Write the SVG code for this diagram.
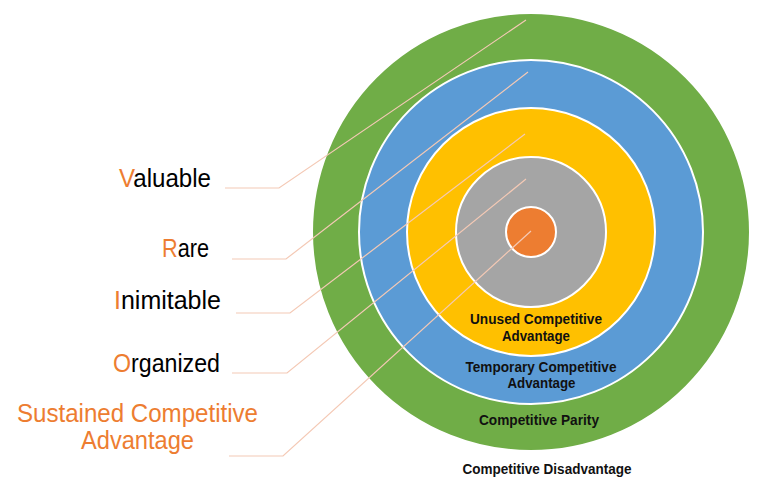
<svg xmlns="http://www.w3.org/2000/svg" width="766" height="490" viewBox="0 0 766 490">
<style>
.ring{stroke:#fff;stroke-width:2}
.lead{fill:none;stroke:#F4C9B5;stroke-width:1.2}
.lbl{font-family:"Liberation Sans",Arial,sans-serif;font-size:25px;fill:#000}
.o{fill:#ED7D31}
.in{font-family:"Liberation Sans",Arial,sans-serif;font-size:14.5px;font-weight:bold;fill:#111;text-anchor:middle}
</style>
<rect width="766" height="490" fill="#fff"/>
<g id="rings">
<circle id="ring-parity" class="ring" cx="531" cy="232" r="219" fill="#70AD47"/>
<circle id="ring-temporary" class="ring" cx="531" cy="232" r="172" fill="#5B9BD5"/>
<circle id="ring-unused" class="ring" cx="531" cy="232" r="124" fill="#FFC000"/>
<circle id="ring-gray" class="ring" cx="531" cy="232" r="75" fill="#A5A5A5"/>
<circle id="ring-core" class="ring" cx="531" cy="232" r="25" fill="#ED7D31"/>
</g>
<g id="connectors">
<polyline class="lead" points="225,188 279,188 526,20"/>
<polyline class="lead" points="232,259 286,259 528,72"/>
<polyline class="lead" points="236,313 290,313 525,134"/>
<polyline class="lead" points="232,373 287,373 526,179"/>
<polyline class="lead" points="229,456 283,456 531,231"/>
</g>
<g id="valuable"><text class="lbl" x="119" y="187" textLength="92" lengthAdjust="spacingAndGlyphs"><tspan class="o">V</tspan>aluable</text></g>
<g id="rare"><text class="lbl" x="162" y="257" textLength="47" lengthAdjust="spacingAndGlyphs"><tspan class="o">R</tspan>are</text></g>
<g id="inimitable"><text class="lbl" x="114" y="309" textLength="107" lengthAdjust="spacingAndGlyphs"><tspan class="o">I</tspan>nimitable</text></g>
<g id="organized"><text class="lbl" x="113" y="372" textLength="107" lengthAdjust="spacingAndGlyphs"><tspan class="o">O</tspan>rganized</text></g>
<g id="sustained"><text class="lbl o" x="17" y="422" textLength="241" lengthAdjust="spacingAndGlyphs">Sustained Competitive</text><text class="lbl o" x="81" y="449" textLength="113" lengthAdjust="spacingAndGlyphs">Advantage</text></g>
<g id="unused"><text class="in" x="536" y="324" textLength="132" lengthAdjust="spacingAndGlyphs">Unused Competitive</text><text class="in" x="536" y="341" textLength="68" lengthAdjust="spacingAndGlyphs">Advantage</text></g>
<g id="temporary"><text class="in" x="541" y="372" textLength="151" lengthAdjust="spacingAndGlyphs">Temporary Competitive</text><text class="in" x="541.5" y="388" textLength="68" lengthAdjust="spacingAndGlyphs">Advantage</text></g>
<g id="parity"><text class="in" x="539" y="425" textLength="120" lengthAdjust="spacingAndGlyphs">Competitive Parity</text></g>
<g id="disadvantage"><text class="in" x="547" y="474" textLength="169" lengthAdjust="spacingAndGlyphs">Competitive Disadvantage</text></g>
</svg>
